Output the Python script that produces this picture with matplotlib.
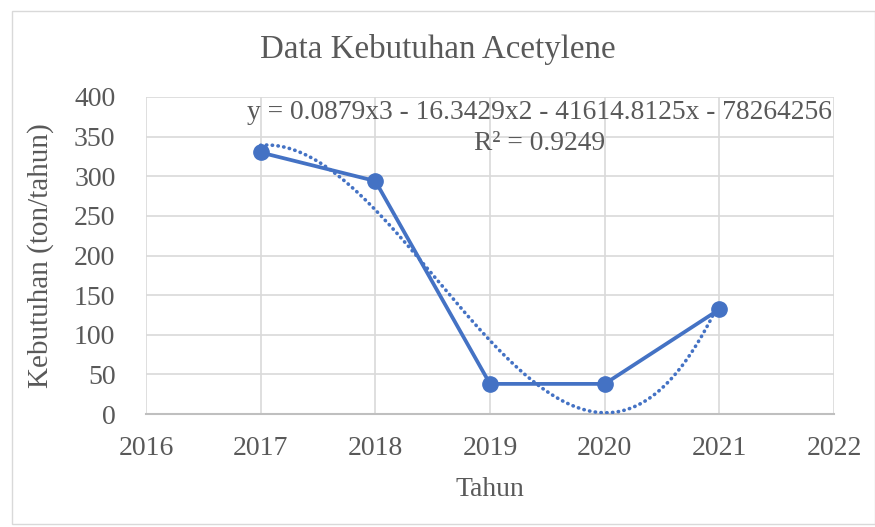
import matplotlib.pyplot as plt
import numpy as np
import matplotlib
matplotlib.use('Agg')

# data
tahun = [2017, 2018, 2019, 2020, 2021]
kebutuhan = [330, 294, 38, 38, 132]
x_ticks = [2016, 2017, 2018, 2019, 2020, 2021, 2022]
y_ticks = [0, 50, 100, 150, 200, 250, 300, 350, 400]
persamaan = 'y = 0.0879x3 - 16.3429x2 - 41614.8125x - 78264256'
r_kuadrat = 'R² = 0.9249'

BLUE = '#4472C4'
TEXT = '#595959'
GRID = '#D9D9D9'

plt.rcParams['font.family'] = ['Liberation Serif', 'DejaVu Serif']

fig = plt.figure(figsize=(8.75, 5.27), dpi=100)
ax = fig.add_axes([146 / 875, 1 - 414 / 527, (834 - 146) / 875, (414 - 97) / 527])

# cubic trendline (least squares, like Excel), centred x for stability
x0 = np.mean(tahun)
coef = np.polyfit(np.array(tahun) - x0, kebutuhan, 3)
xs = np.linspace(tahun[0], tahun[-1], 300)
ax.plot(xs, np.polyval(coef, xs - x0), color=BLUE, lw=2.6,
        linestyle=(0, (0.1, 1.5)), dash_capstyle='round', zorder=3)

ax.plot(tahun, kebutuhan, color=BLUE, lw=2.7, marker='o', markersize=11, zorder=4)

ax.set_xlim(2016, 2022)
ax.set_ylim(0, 400)
ax.set_xticks(x_ticks)
ax.set_yticks(y_ticks)
ax.grid(True, color=GRID, lw=1.2)
ax.set_axisbelow(True)
for s in ['top', 'right', 'left']:
    ax.spines[s].set_visible(False)
ax.spines['bottom'].set_color('#BFBFBF')
ax.spines['bottom'].set_linewidth(1.5)
ax.tick_params(length=0, labelsize=20, labelcolor=TEXT)
ax.tick_params(axis='y', pad=22)
ax.tick_params(axis='x', pad=16)

ax.set_xlabel('Tahun', fontsize=20, color=TEXT, labelpad=11)
ax.set_ylabel('Kebutuhan (ton/tahun)', fontsize=21, color=TEXT, labelpad=14)
fig.suptitle('Data Kebutuhan Acetylene', fontsize=23.8, color=TEXT, y=0.935)

ax.text(0.572, 0.95, persamaan, transform=ax.transAxes, ha='center', va='center',
        fontsize=19.8, color=TEXT)
ax.text(0.572, 0.852, r_kuadrat, transform=ax.transAxes, ha='center', va='center',
        fontsize=19.8, color=TEXT)

# chart area border
fig.patches.append(plt.Rectangle((12 / 875, 0.005), 1 - 12 / 875, 0.975,
                                 transform=fig.transFigure, fill=False,
                                 edgecolor=GRID, lw=1))

fig.savefig('out.png', dpi=100)
